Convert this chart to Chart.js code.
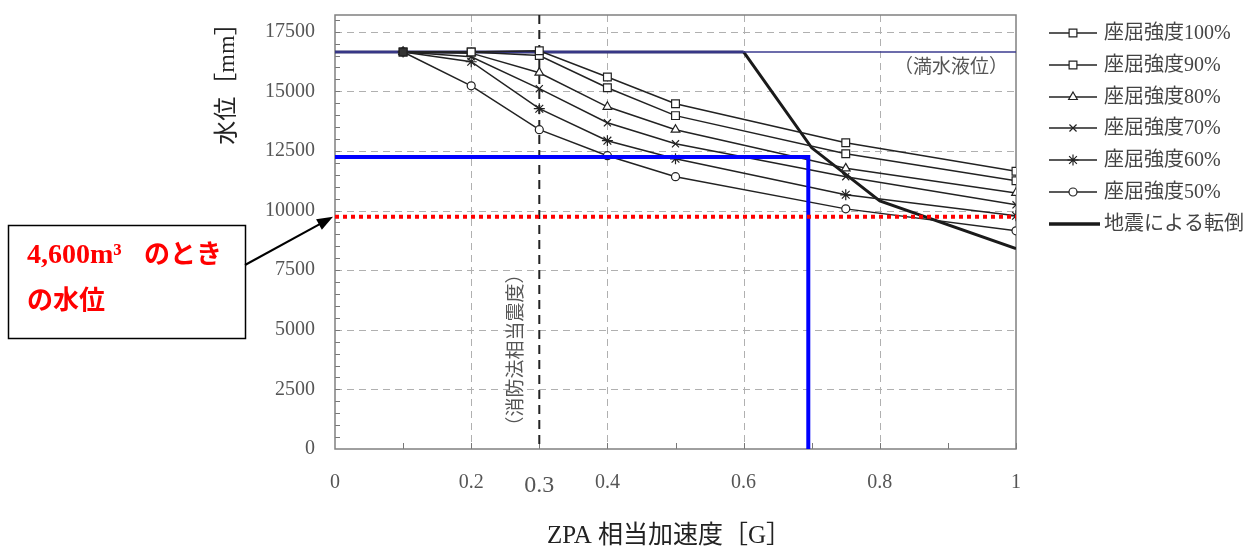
<!DOCTYPE html>
<html>
<head>
<meta charset="utf-8">
<script src="https://cdn.jsdelivr.net/npm/chart.js@4.4.1/dist/chart.umd.min.js"></script>
<style>
  body { margin: 0; background: #fff; }
  #wrap { width: 1258px; height: 556px; position: relative; }
</style>
</head>
<body>
<div id="wrap"><canvas id="levelChart"></canvas></div>
<script>
// ZPA accelerations where buckling was evaluated
const accel = [0.1, 0.2, 0.3, 0.4, 0.5, 0.75, 1.0];
const buckle100 = [16650, 16650, 16700, 15600, 14480, 12840, 11650];
const buckle90 = [16650, 16650, 16500, 15150, 13980, 12380, 11250];
const buckle80 = [16650, 16600, 15780, 14350, 13390, 11770, 10740];
const buckle70 = [16650, 16450, 15110, 13680, 12800, 11420, 10240];
const buckle60 = [16650, 16240, 14270, 12930, 12170, 10660, 9780];
const buckle50 = [16650, 15230, 13390, 12300, 11420, 10070, 9150];

// overturning by earthquake
const overturnX = [0, 0.6, 0.7, 0.8, 1.0];
const overturnY = [16650, 16650, 12630, 10400, 8400];

// full water level, 4,600m3 level, and the blue limit line
const fullX = [0, 1];
const fullY = [16650, 16650];
const volX = [0, 1];
const volY = [9740, 9740];
const limitX = [0, 0.695, 0.695];
const limitY = [12250, 12250, 0];

const xTicks = [0, 0.2, 0.3, 0.4, 0.6, 0.8, 1];
const yTicks = [0, 2500, 5000, 7500, 10000, 12500, 15000, 17500];
const seriesNames = ['座屈強度100%', '座屈強度90%', '座屈強度80%', '座屈強度70%', '座屈強度60%', '座屈強度50%'];

const SERIF = '"Liberation Serif", "Noto Sans CJK JP", serif';

function pts(xs, ys) {
    return xs.map((x, i) => ({ x: x, y: ys[i] }));
}

const markerStyles = [
    { style: 'rect', r: 5.5 },
    { style: 'rect', r: 5.5 },
    { style: 'triangle', r: 5 },
    { style: 'crossRot', r: 5 },
    { style: 'star', r: 5.5 },
    { style: 'circle', r: 4 }
];

const seriesData = [buckle100, buckle90, buckle80, buckle70, buckle60, buckle50];

const datasets = [
    {
        label: '4600',
        data: pts(volX, volY),
        borderColor: '#ff0000',
        borderWidth: 4,
        borderDash: [4, 4],
        pointRadius: 0,
        order: 0
    },
    {
        label: 'limit',
        data: pts(limitX, limitY),
        borderColor: '#0000ff',
        borderWidth: 4,
        pointRadius: 0,
        order: 1
    }
];

seriesData.forEach((vals, i) => {
    datasets.push({
        label: seriesNames[i],
        data: pts(accel, vals),
        borderColor: '#222',
        borderWidth: 1.5,
        pointStyle: markerStyles[i].style,
        pointRadius: markerStyles[i].r,
        // the first point is where all curves pile up, it reads as a dark blob
        pointBackgroundColor: c => c.dataIndex === 0 ? '#333' : '#fff',
        pointBorderColor: '#222',
        pointBorderWidth: 1.2,
        order: 2 + i
    });
});

datasets.push({
    label: 'full',
    data: pts(fullX, fullY),
    borderColor: '#3b3b8f',
    borderWidth: 1.5,
    pointRadius: 0,
    order: 8
});
datasets.push({
    label: '地震による転倒',
    data: pts(overturnX, overturnY),
    borderColor: '#1a1a1a',
    borderWidth: 3,
    pointRadius: 0,
    segment: {
        borderColor: c => c.p0.parsed.y === c.p1.parsed.y ? '#2e2e6e' : '#1a1a1a'
    },
    order: 9
});

// grid, frame, minor ticks and the 0.3 reference line
const backdrop = {
    id: 'backdrop',
    beforeDatasetsDraw(chart) {
        const { ctx, chartArea: a, scales: { x, y } } = chart;
        ctx.save();
        ctx.strokeStyle = '#b0b0b0';
        ctx.lineWidth = 1;
        ctx.setLineDash([7, 5]);
        yTicks.slice(1).forEach(v => {
            const py = Math.round(y.getPixelForValue(v)) + 0.5;
            ctx.beginPath(); ctx.moveTo(a.left, py); ctx.lineTo(a.right, py); ctx.stroke();
        });
        [0.2, 0.4, 0.6, 0.8].forEach(v => {
            const px = Math.round(x.getPixelForValue(v)) + 0.5;
            ctx.beginPath(); ctx.moveTo(px, a.top); ctx.lineTo(px, a.bottom); ctx.stroke();
        });
        ctx.setLineDash([]);

        // minor ticks
        ctx.strokeStyle = '#777';
        for (let v = 500; v < 18200; v += 500) {
            const py = Math.round(y.getPixelForValue(v)) + 0.5;
            ctx.beginPath(); ctx.moveTo(a.left, py); ctx.lineTo(a.left + 5, py); ctx.stroke();
        }
        for (let v = 0.1; v < 1; v += 0.1) {
            const px = Math.round(x.getPixelForValue(v)) + 0.5;
            ctx.beginPath(); ctx.moveTo(px, a.bottom); ctx.lineTo(px, a.bottom - 6); ctx.stroke();
        }

        // frame
        ctx.strokeStyle = '#808080';
        ctx.lineWidth = 1.5;
        ctx.strokeRect(a.left, a.top, a.right - a.left, a.bottom - a.top);

        // 消防法相当震度 line at 0.3
        const p3 = x.getPixelForValue(0.3);
        ctx.strokeStyle = '#222';
        ctx.lineWidth = 2;
        ctx.setLineDash([9, 6]);
        ctx.beginPath(); ctx.moveTo(p3, a.top); ctx.lineTo(p3, a.bottom); ctx.stroke();
        ctx.restore();
    }
};

// texts, legend and the callout
const overlay = {
    id: 'overlay',
    afterDraw(chart) {
        const { ctx, chartArea: a, scales: { x, y } } = chart;
        ctx.save();

        // in-plot labels
        ctx.fillStyle = '#555';
        ctx.font = '19px ' + SERIF;
        ctx.textAlign = 'right';
        ctx.textBaseline = 'middle';
        ctx.fillText('（満水液位）', a.right - 8, 68);

        ctx.save();
        ctx.translate(x.getPixelForValue(0.3) - 22, 350);
        ctx.rotate(-Math.PI / 2);
        ctx.textAlign = 'center';
        ctx.font = '19px ' + SERIF;
        ctx.fillText('（消防法相当震度）', 0, 0);
        ctx.restore();

        // axis titles
        ctx.fillStyle = '#222';
        ctx.save();
        ctx.translate(228, 78);
        ctx.rotate(-Math.PI / 2);
        ctx.textAlign = 'center';
        ctx.font = '24px ' + SERIF;
        ctx.fillText('水位［mm］', 0, 0);
        ctx.restore();

        ctx.textAlign = 'center';
        ctx.font = '25px ' + SERIF;
        ctx.fillText('ZPA 相当加速度［G］', 669, 536);

        // legend
        const lx = 1049, rowY = [33, 65, 97, 128, 160, 192, 224];
        ctx.textAlign = 'left';
        ctx.font = '20px ' + SERIF;
        seriesNames.forEach((name, i) => {
            const ly = rowY[i];
            ctx.strokeStyle = '#222';
            ctx.lineWidth = 1.5;
            ctx.beginPath(); ctx.moveTo(lx, ly); ctx.lineTo(lx + 48, ly); ctx.stroke();
            ctx.fillStyle = '#fff';
            ctx.lineWidth = 1.2;
            Chart.helpers.drawPoint(ctx, {
                pointStyle: markerStyles[i].style,
                radius: markerStyles[i].r,
                rotation: 0,
                borderWidth: 1.2
            }, lx + 24, ly);
            ctx.fillStyle = '#444';
            ctx.fillText(name, 1104, ly + 1);
        });
        ctx.strokeStyle = '#1a1a1a';
        ctx.lineWidth = 3.5;
        ctx.beginPath(); ctx.moveTo(lx, rowY[6]); ctx.lineTo(lx + 51, rowY[6]); ctx.stroke();
        ctx.fillStyle = '#444';
        ctx.fillText('地震による転倒', 1104, rowY[6] + 1);

        // callout box
        ctx.strokeStyle = '#000';
        ctx.lineWidth = 1.5;
        ctx.strokeRect(8.5, 225.5, 237, 113);
        ctx.fillStyle = '#ff0000';
        ctx.textBaseline = 'alphabetic';
        ctx.font = 'bold 28px ' + SERIF;
        ctx.fillText('4,600m³', 27, 263);
        ctx.font = 'bold 26px ' + SERIF;
        ctx.fillText('のとき', 144, 263);
        ctx.fillText('の水位', 27, 309);

        // arrow to 4,600m3 level
        const tx = a.left - 2, ty = y.getPixelForValue(volY[0]);
        const sx = 245, sy = 265;
        const ang = Math.atan2(ty - sy, tx - sx);
        ctx.strokeStyle = '#000';
        ctx.lineWidth = 2;
        ctx.beginPath(); ctx.moveTo(sx, sy);
        ctx.lineTo(tx - 12 * Math.cos(ang), ty - 12 * Math.sin(ang)); ctx.stroke();
        ctx.fillStyle = '#000';
        ctx.beginPath();
        ctx.moveTo(tx, ty);
        ctx.lineTo(tx - 16 * Math.cos(ang) + 6 * Math.sin(ang), ty - 16 * Math.sin(ang) - 6 * Math.cos(ang));
        ctx.lineTo(tx - 16 * Math.cos(ang) - 6 * Math.sin(ang), ty - 16 * Math.sin(ang) + 6 * Math.cos(ang));
        ctx.closePath(); ctx.fill();
        ctx.restore();
    }
};

new Chart(document.getElementById('levelChart'), {
    type: 'line',
    data: { datasets: datasets },
    options: {
        responsive: true,
        maintainAspectRatio: false,
        animation: false,
        layout: { padding: { top: 15, right: 242, left: 0, bottom: 0 } },
        plugins: { legend: { display: false }, tooltip: { enabled: false } },
        elements: { line: { tension: 0 } },
        scales: {
            x: {
                type: 'linear',
                min: 0,
                max: 1,
                grid: { display: false, drawTicks: false },
                border: { display: false },
                afterBuildTicks: s => { s.ticks = xTicks.map(v => ({ value: v })); },
                afterFit: s => { s.height = 107; s.paddingLeft = 0; s.paddingRight = 0; },
                ticks: {
                    padding: 22,
                    color: '#555',
                    maxRotation: 0,
                    autoSkip: false,
                    font: c => (c.tick && c.tick.value === 0.3)
                        ? { size: 24, family: SERIF }
                        : { size: 20, family: SERIF },
                    callback: v => String(v)
                }
            },
            y: {
                min: 0,
                max: 18200,
                grid: { display: false, drawTicks: false },
                border: { display: false },
                afterBuildTicks: s => { s.ticks = yTicks.map(v => ({ value: v })); },
                afterFit: s => { s.width = 335; s.paddingTop = 0; s.paddingBottom = 0; },
                ticks: {
                    padding: 20,
                    color: '#555',
                    font: { size: 20, family: SERIF },
                    callback: v => String(v)
                }
            }
        }
    },
    plugins: [backdrop, overlay]
});
</script>
</body>
</html>
